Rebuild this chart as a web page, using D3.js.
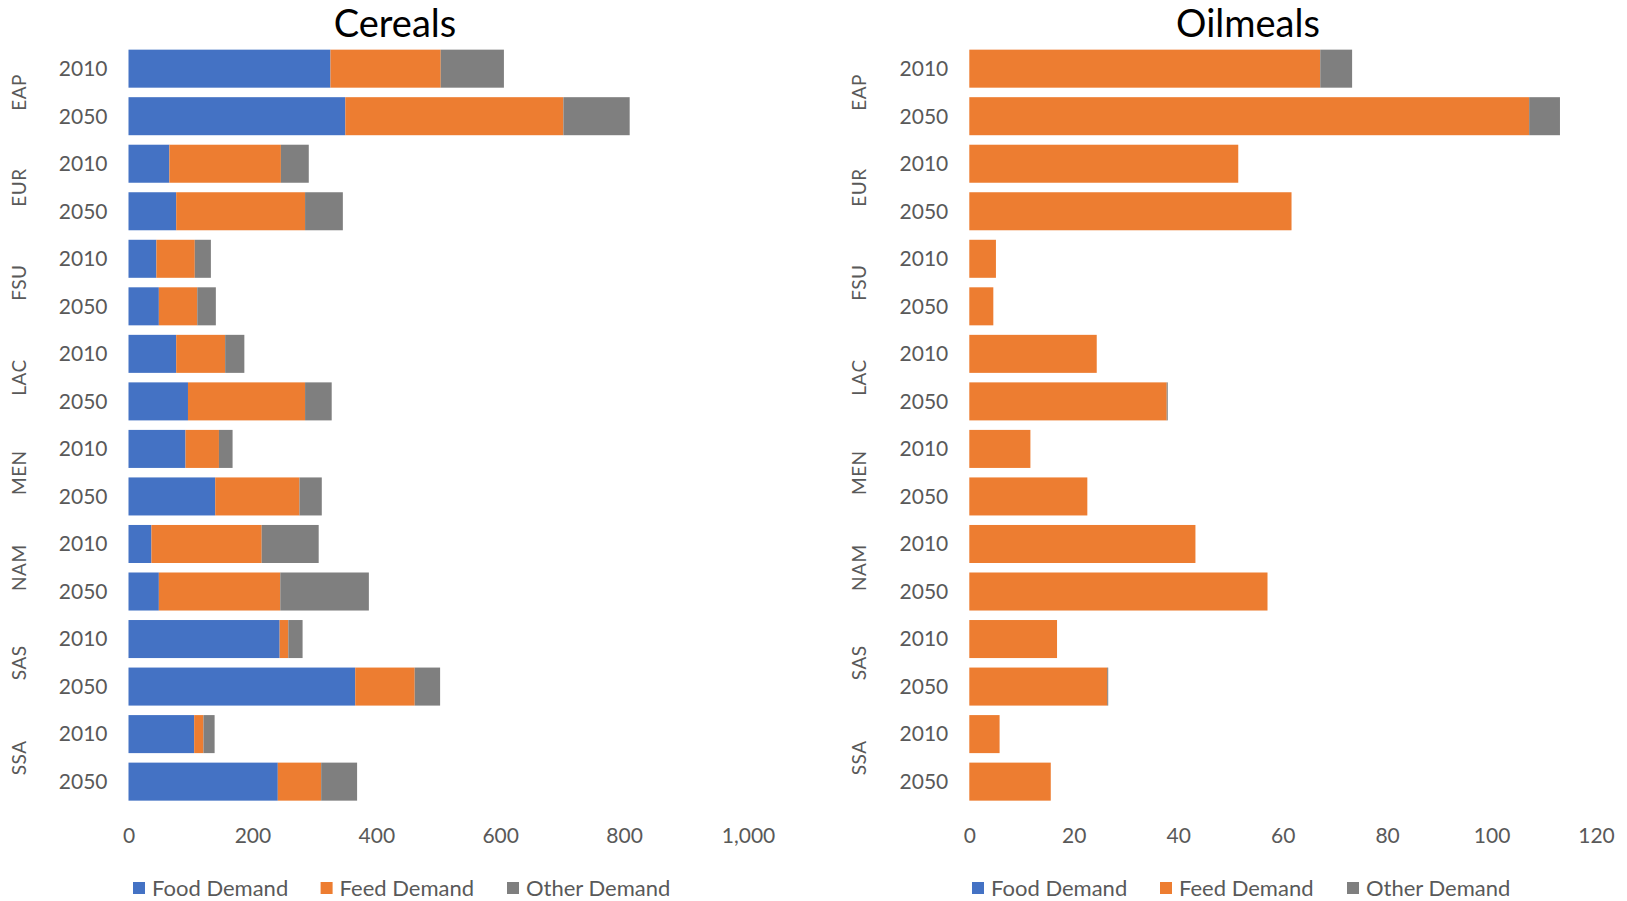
<!DOCTYPE html>
<html>
<head>
<meta charset="utf-8">
<script src="https://cdn.jsdelivr.net/npm/d3@7"></script>
<style>
  body { margin: 0; background: #fff; }
  svg text { font-family: Lato, "Open Sans", sans-serif; }
</style>
</head>
<body>
<svg id="chart"></svg>
<script>
// categories
var regions = ['EAP', 'EUR', 'FSU', 'LAC', 'MEN', 'NAM', 'SAS', 'SSA']
var years = ['2010', '2050']
var seriesNames = ['Food Demand', 'Feed Demand', 'Other Demand']
var seriesColors = ['#4472C4', '#ED7D31', '#7F7F7F']

// cereals, one value per region/year row (EAP 2010, EAP 2050, EUR 2010 ...)
var cerealFood  = [326, 350, 66, 77, 45, 49, 77, 96, 92, 140, 37, 49, 244, 366, 106, 241]
var cerealFeed  = [178, 352, 180, 208, 62, 62, 79, 189, 54, 136, 178, 196, 14, 96, 15, 70]
var cerealOther = [102, 107, 45, 61, 26, 30, 31, 43, 22, 36, 92, 143, 23, 41, 18, 58]

// oilmeals
var oilFood  = [0, 0, 0, 0, 0, 0, 0, 0, 0, 0, 0, 0, 0, 0, 0, 0]
var oilFeed  = [67.2, 107.2, 51.5, 61.7, 5.1, 4.6, 24.4, 37.8, 11.7, 22.6, 43.3, 57.1, 16.8, 26.4, 5.8, 15.6]
var oilOther = [6.1, 5.9, 0, 0, 0, 0, 0, 0.2, 0, 0, 0, 0, 0, 0.2, 0, 0]

var cerealTicks = [0, 200, 400, 600, 800, 1000]
var oilTicks = [0, 20, 40, 60, 80, 100, 120]

var width = 1627, height = 901
var svg = d3.select('#chart')
    .attr('width', width)
    .attr('height', height)
    .attr('viewBox', [0, 0, width, height])

var rows = []
regions.forEach(r => years.forEach(y => rows.push(r + ' ' + y)))

// same vertical bands for both panels
var y = d3.scaleBand()
    .domain(rows)
    .range([44.9, 805.4])
    .paddingInner(0.2)
    .paddingOuter(0.1)

function drawPanel(opts) {
    var g = svg.append('g')

    var table = rows.map((key, i) => ({
        key: key,
        'Food Demand': opts.food[i],
        'Feed Demand': opts.feed[i],
        'Other Demand': opts.other[i]
    }))
    var stacked = d3.stack().keys(seriesNames)(table)

    var x = d3.scaleLinear()
        .domain([0, opts.ticks[opts.ticks.length - 1]])
        .range([opts.left, opts.right])

    // title
    g.append('text')
        .attr('x', opts.titleX)
        .attr('y', 37)
        .attr('text-anchor', 'middle')
        .style('font-size', '38px')
        .style('fill', '#000')
        .text(opts.title)

    // bars
    g.selectAll('.series')
        .data(stacked)
        .enter()
        .append('g')
        .attr('class', 'series')
        .attr('fill', (d, i) => seriesColors[i])
        .selectAll('rect')
        .data(d => d)
        .enter()
        .append('rect')
        .attr('x', d => x(d[0]))
        .attr('y', d => y(d.data.key))
        .attr('width', d => Math.max(0, x(d[1]) - x(d[0])))
        .attr('height', y.bandwidth())

    // x axis, labels only
    g.append('g')
        .attr('transform', 'translate(0,' + 836 + ')')
        .call(d3.axisBottom(x).tickValues(opts.ticks).tickFormat(d3.format(',')).tickSize(0))
        .call(g => g.select('.domain').remove())
        .call(g => g.selectAll('text')
            .attr('dy', '0.35em')
            .attr('y', 0)
            .style('font-family', 'Lato, sans-serif')
            .style('font-size', '21px')
            .style('fill', '#595959'))

    // year labels
    g.selectAll('.yr')
        .data(rows)
        .enter()
        .append('text')
        .attr('class', 'yr')
        .attr('x', opts.left - 21)
        .attr('y', d => y(d) + y.bandwidth() / 2)
        .attr('dy', '0.35em')
        .attr('text-anchor', 'end')
        .style('font-size', '21px')
        .style('fill', '#595959')
        .text(d => d.split(' ')[1])

    // region labels, rotated
    g.selectAll('.reg')
        .data(regions)
        .enter()
        .append('text')
        .attr('class', 'reg')
        .attr('transform', d => {
            var cy = (y(d + ' 2010') + y(d + ' 2050') + y.bandwidth()) / 2
            return 'translate(' + opts.regionX + ',' + cy + ') rotate(-90)'
        })
        .attr('dy', '0.35em')
        .attr('text-anchor', 'middle')
        .style('font-size', '19px')
        .style('letter-spacing', '0.5px')
        .style('fill', '#595959')
        .text(d => d)

    // legend
    var leg = g.selectAll('.leg')
        .data(seriesNames)
        .enter()
        .append('g')
        .attr('class', 'leg')
        .attr('transform', (d, i) => 'translate(' + opts.legendX[i] + ',' + 888 + ')')

    leg.append('rect')
        .attr('x', 0)
        .attr('y', -6)
        .attr('width', 12)
        .attr('height', 12)
        .attr('fill', (d, i) => seriesColors[i])

    leg.append('text')
        .attr('x', 19)
        .attr('dy', '0.35em')
        .style('font-size', '22px')
        .style('fill', '#595959')
        .text(d => d)
}

drawPanel({
    title: 'Cereals', titleX: 395,
    food: cerealFood, feed: cerealFeed, other: cerealOther,
    ticks: cerealTicks, left: 128.5, right: 748,
    regionX: 19.7,
    legendX: [133, 320.6, 507]
})

drawPanel({
    title: 'Oilmeals', titleX: 1248,
    food: oilFood, feed: oilFeed, other: oilOther,
    ticks: oilTicks, left: 969.3, right: 1596,
    regionX: 859.7,
    legendX: [972, 1160, 1347]
})
</script>
</body>
</html>
